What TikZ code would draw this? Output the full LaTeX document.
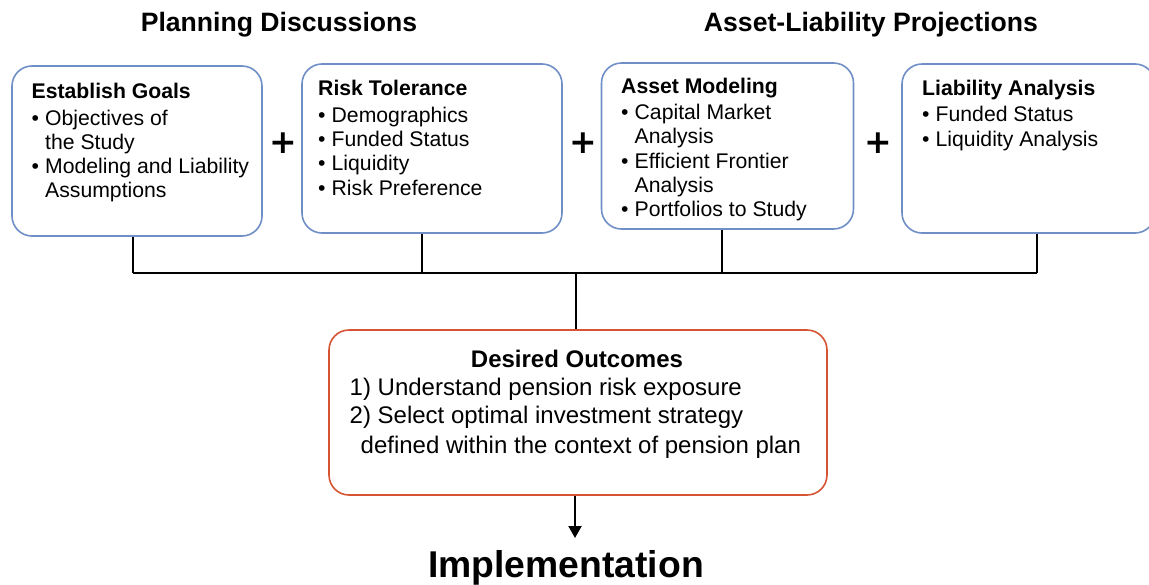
\documentclass[tikz,border=0pt]{standalone}
\usepackage{fontspec}
\setmainfont{Liberation Sans}
\newfontfamily\plusfont{DejaVu Sans}
\usetikzlibrary{arrows.meta}
\definecolor{boxblue}{RGB}{111,143,198}
\definecolor{boxred}{RGB}{214,84,52}
\newcommand{\bitem}[1]{\makebox[13.5pt][l]{•}#1}
\newcommand{\bcont}[1]{\hspace*{13.5pt}#1}
\newcommand{\topstrut}[1]{\rule{0pt}{#1}}
\begin{document}
\begin{tikzpicture}[x=1pt,y=-1pt,
  bluebox/.style={draw=boxblue, line width=1.6pt, rounded corners=20pt, fill=white, inner sep=0pt},
  redbox/.style={draw=boxred, line width=1.6pt, rounded corners=20pt, fill=white, inner sep=0pt},
  boxtext/.style={anchor=north west, inner sep=0pt, align=left, font=\fontsize{21.2}{24.3}\selectfont},
  redtext/.style={inner sep=0pt, align=left, font=\fontsize{24}{28}\selectfont},
  header/.style={anchor=base, inner sep=0pt, font=\fontsize{26.6}{30}\selectfont\bfseries},
  plussign/.style={inner sep=0pt, font=\fontsize{33}{36}\plusfont\bfseries},
  conn/.style={line width=1.4pt}]
\useasboundingbox (0,0) rectangle (1149,584);

% headers
\node[header] (h1) at (279,31.5) {Planning Discussions};
\node[header] (h2) at (871,31.5) {Asset-Liability Projections};

% boxes
\node[bluebox, minimum width=250pt, minimum height=170pt] (b1) at (137,151) {};
\node[bluebox, minimum width=260pt, minimum height=169pt] (b2) at (432,148.5) {};
\node[bluebox, minimum width=252pt, minimum height=166pt] (b3) at (727.5,146) {};
\node[bluebox, minimum width=253pt, minimum height=169pt] (b4) at (1028.5,148.5) {};
\node[redbox, minimum width=498pt, minimum height=165pt] (r) at (578,412.5) {};

% box texts (first baseline = top + 20)
\node[boxtext] (t1) at (31.5,78.3) {\topstrut{20pt}\textbf{Establish Goals}\\[2.2pt]
  \bitem{Objectives of}\\ \bcont{the Study}\\ \bitem{Modeling and Liability}\\ \bcont{Assumptions}};
\node[boxtext] (t2) at (318,75.5) {\topstrut{20pt}\textbf{Risk Tolerance}\\[2.2pt]
  \bitem{Demographics}\\ \bitem{Funded Status}\\ \bitem{Liquidity}\\ \bitem{Risk Preference}};
\node[boxtext] (t3) at (621,73.5) {\topstrut{20pt}\textbf{Asset Modeling}\\[1.5pt]
  \bitem{Capital Market}\\ \bcont{Analysis}\\ \bitem{Efficient Frontier}\\ \bcont{Analysis}\\ \bitem{Portfolios to Study}};
\node[boxtext] (t4) at (922,75) {\topstrut{20pt}\textbf{Liability Analysis}\\[2.2pt]
  \bitem{Funded Status}\\ \bitem{Liquidity Analysis}};

\node[redtext, anchor=base] (rt) at (577,367) {\textbf{Desired Outcomes}};
\node[redtext, anchor=north west] (rb) at (349.5,373) {\topstrut{22pt}1) Understand pension risk exposure\\
  2) Select optimal investment strategy\\[2pt]
  \hspace*{11pt}defined within the context of pension plan};

% plus signs
\node[plussign] (p1) at (283,143) {+};
\node[plussign] (p2) at (583,143) {+};
\node[plussign] (p3) at (878,143) {+};

% connectors
\coordinate (j1) at (133,273);
\coordinate (j2) at (422,273);
\coordinate (j3) at (722,273);
\coordinate (j4) at (1037,273);
\coordinate (jc) at (576,273);
\draw[conn] (j1 |- b1.south) -- (j1);
\draw[conn] (j2 |- b2.south) -- (j2);
\draw[conn] (j3 |- b3.south) -- (j3);
\draw[conn] (j4 |- b4.south) -- (j4);
\draw[conn] (j1) -- (j4);
\draw[conn] (jc) -- (jc |- r.north);

% implementation
\node[inner sep=0pt, anchor=base, font=\fontsize{37.3}{40}\selectfont\bfseries] (impl) at (566,577) {Implementation};
\coordinate (at) at (575,538);
\draw[line width=2pt, -{Triangle[width=13pt,length=12pt]}] (at |- r.south) -- (at);
\end{tikzpicture}
\end{document}
